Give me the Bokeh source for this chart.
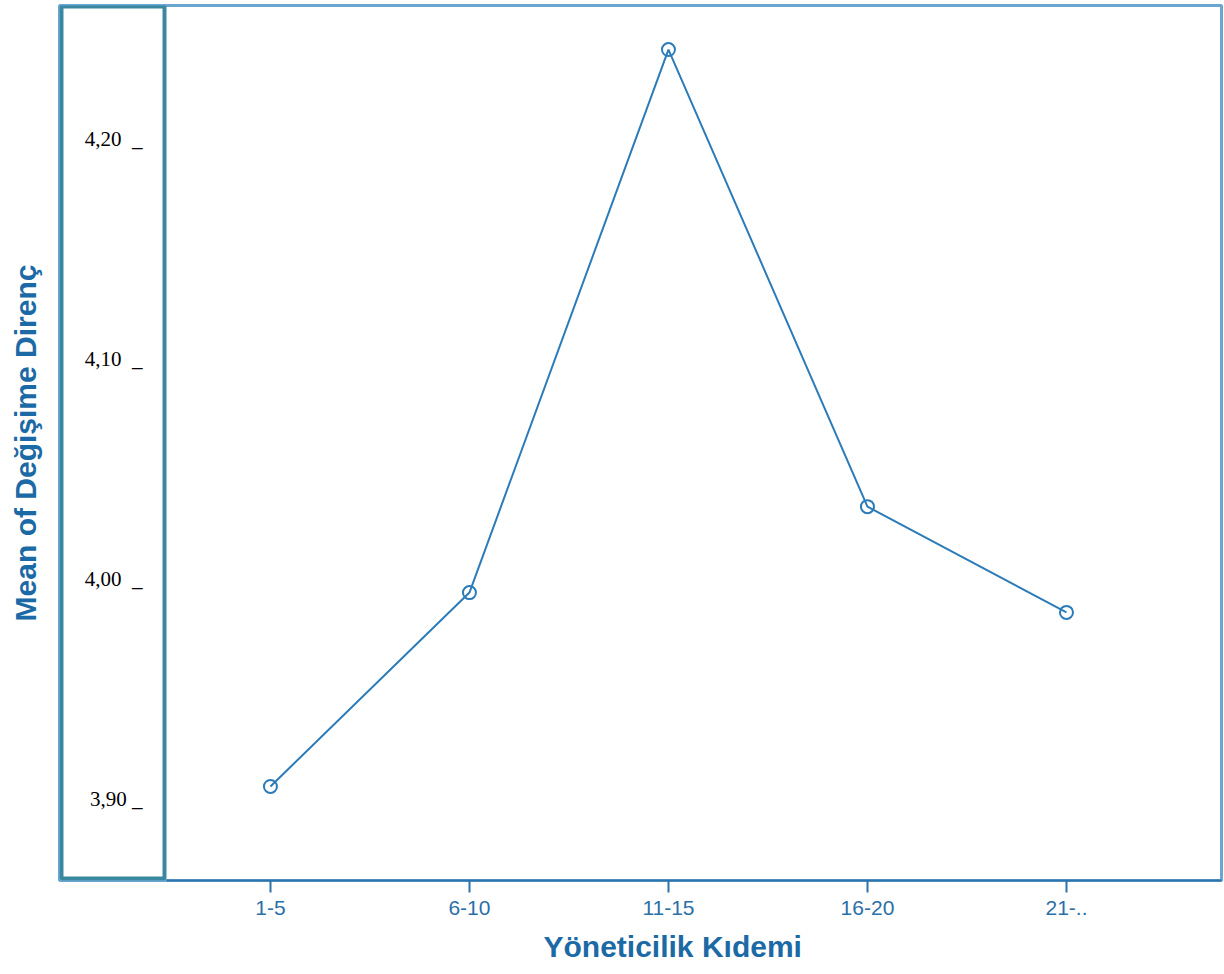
from bokeh.plotting import figure
from bokeh.models import FixedTicker, Range1d, BoxAnnotation, Title
from bokeh.core.properties import value
from bokeh.embed import file_html
from bokeh.resources import INLINE

categories = ["1-5", "6-10", "11-15", "16-20", "21-.."]
means = [3.910, 3.998, 4.2445, 4.037, 3.989]
y_ticks = [3.90, 4.00, 4.10, 4.20]
y_tick_labels = ["3,90 _", "4,00\u00a0 _", "4,10\u00a0 _", "4,20\u00a0 _"]

x = list(range(1, len(categories) + 1))

LINE = "#2b7bb9"
TITLE = "#1b6aa5"
TEAL = "#3a88a0"

W, H = 1224, 974
X0, X1 = -0.060, 5.779
Y0, Y1 = 3.8673, 4.2645

p = figure(width=W, height=H, output_backend="svg", toolbar_location=None,
           x_range=Range1d(X0, X1), y_range=Range1d(Y0, Y1),
           min_border_left=59, min_border_right=3, min_border_top=5,
           min_border_bottom=94)
p.grid.visible = False
p.outline_line_color = "#6aa6cf"
p.outline_line_width = 3

# x axis
xa = p.xaxis[0]
xa.ticker = FixedTicker(ticks=x)
xa.major_label_overrides = {i: c for i, c in zip(x, categories)}
xa.bounds = (X0 + (X1 - X0) * 107 / 1162, X1)
xa.axis_line_color = "#2a73ad"
xa.axis_line_width = 2
xa.major_tick_in = 0
xa.major_tick_out = 12
xa.major_tick_line_color = "#2a73ad"
xa.major_tick_line_width = 2
xa.minor_tick_line_color = None
xa.major_label_text_font = "Liberation Sans"
xa.major_label_text_font_size = "21px"
xa.major_label_text_color = "#2a6fa8"
xa.major_label_standoff = 8

xt = Title(text="Yöneticilik Kıdemi", align="left", offset=484,
           text_font="Liberation Sans", text_font_style="bold",
           text_font_size="30px", text_color=TITLE, standoff=20)
p.add_layout(xt, "below")

# y axis: only the title; tick labels sit inside the boxed strip
ya = p.yaxis[0]
ya.ticker = FixedTicker(ticks=[])
ya.axis_line_color = None
ya.major_tick_line_color = None
ya.minor_tick_line_color = None
ya.major_tick_out = 0
ya.major_label_standoff = 0
ya.axis_label = "Mean of Değişime Direnç"
ya.axis_label_text_font = "Liberation Sans"
ya.axis_label_text_font_style = "bold"
ya.axis_label_text_font_size = "30px"
ya.axis_label_text_color = TITLE
ya.axis_label_standoff = 18

box = BoxAnnotation(left=2, right=105, top=2, bottom=874,
                    left_units="screen", right_units="screen",
                    top_units="screen", bottom_units="screen",
                    fill_color="white", fill_alpha=1, line_color=TEAL,
                    line_alpha=1, line_width=4, level="underlay")
p.add_layout(box)

p.text(x=[X0] * len(y_ticks), y=y_ticks, text=y_tick_labels,
       x_offset=83, y_offset=-9, text_align="right",
       text_baseline="alphabetic", text_font=value("Liberation Serif"),
       text_font_size="21px", text_color="black")

p.line(x, means, line_color=LINE, line_width=2)
p.scatter(x, means, marker="circle", size=13, fill_color=None,
          line_color=LINE, line_width=2)

open("out.html", "w").write(file_html(p, INLINE))
